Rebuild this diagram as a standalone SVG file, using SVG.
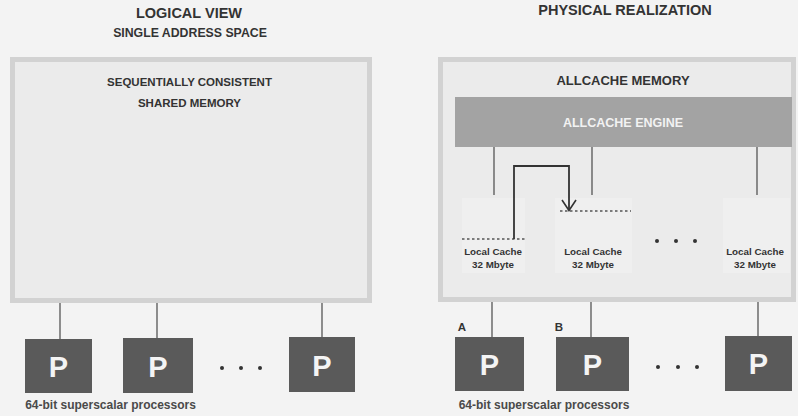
<svg xmlns="http://www.w3.org/2000/svg" width="798" height="416" viewBox="0 0 798 416">
<defs>
<style>
.t{font-family:"Liberation Sans",Arial,sans-serif;font-weight:bold;fill:#333;text-anchor:middle}
.box{fill:#ebebeb;stroke:#d2d2d2;stroke-width:5}
.proc{fill:#5a5a5a}
.pl{font-family:"Liberation Sans",Arial,sans-serif;font-weight:bold;fill:#f4f4f4;text-anchor:middle;font-size:29px}
.ln{stroke:#555;stroke-width:1.3;fill:none}
.cache{fill:#efefef}
.dot{fill:#333}
.dash{stroke:#555;stroke-width:1.3;stroke-dasharray:2.5,2.5;fill:none}
</style>
</defs>
<rect width="798" height="416" fill="#f3f3f3"/>

<g id="titles">
<text class="t" x="189" y="18" font-size="14.5">LOGICAL VIEW</text>
<text class="t" x="190" y="36.5" font-size="12.3">SINGLE ADDRESS SPACE</text>
<text class="t" x="625" y="15" font-size="14.5">PHYSICAL REALIZATION</text>
</g>

<g id="shared-memory">
<rect class="box" x="12.5" y="59.5" width="357" height="241"/>
<text class="t" x="189.5" y="86" font-size="11.5">SEQUENTIALLY CONSISTENT</text>
<text class="t" x="189.5" y="107" font-size="11.5">SHARED MEMORY</text>
</g>

<g id="allcache-memory">
<rect class="box" x="440.5" y="59.5" width="353" height="240"/>
<text class="t" x="623" y="84.5" font-size="13">ALLCACHE MEMORY</text>
</g>

<g id="allcache-engine">
<rect x="455" y="97" width="337" height="50" fill="#a3a3a3"/>
<text class="t" x="623" y="126.5" font-size="12.5" style="fill:#f2f2f2">ALLCACHE ENGINE</text>
</g>

<g id="cache1">
<rect class="cache" x="462" y="198" width="63" height="75"/>
<text class="t" x="493" y="254.5" font-size="9.8">Local Cache</text>
<text class="t" x="493" y="267.5" font-size="9.8">32 Mbyte</text>
</g>
<g id="cache2">
<rect class="cache" x="555" y="198" width="77" height="75"/>
<text class="t" x="593" y="254.5" font-size="9.8">Local Cache</text>
<text class="t" x="593" y="267.5" font-size="9.8">32 Mbyte</text>
</g>
<g id="cache3">
<rect class="cache" x="723" y="198" width="67" height="75"/>
<text class="t" x="755" y="254.5" font-size="9.8">Local Cache</text>
<text class="t" x="755" y="267.5" font-size="9.8">32 Mbyte</text>
</g>
<g id="cache-dots">
<circle class="dot" cx="657" cy="241" r="2"/>
<circle class="dot" cx="676" cy="241" r="2"/>
<circle class="dot" cx="695" cy="241" r="2"/>
</g>

<g id="left-procs">
<g id="lp1"><rect class="proc" x="25" y="339" width="67" height="54"/><text class="pl" x="58.5" y="376.5">P</text></g>
<g id="lp2"><rect class="proc" x="123" y="338" width="70" height="55"/><text class="pl" x="158" y="376.5">P</text></g>
<g id="lp3"><rect class="proc" x="289" y="337" width="66" height="55"/><text class="pl" x="322" y="375.5">P</text></g>
<g id="lp-dots">
<circle class="dot" cx="222" cy="368" r="2"/>
<circle class="dot" cx="241" cy="368" r="2"/>
<circle class="dot" cx="260" cy="368" r="2"/>
</g>
<text class="t" x="110.5" y="409" font-size="12" style="fill:#4a4a4a">64-bit superscalar processors</text>
</g>

<g id="right-procs">
<g id="rpA"><rect class="proc" x="455" y="337" width="69" height="54"/><text class="pl" x="489.5" y="374.5">P</text>
<text class="t" x="462" y="331" font-size="11.5">A</text></g>
<g id="rpB"><rect class="proc" x="556" y="337" width="73" height="54"/><text class="pl" x="592.5" y="374.5">P</text>
<text class="t" x="559" y="331" font-size="11.5">B</text></g>
<g id="rp3"><rect class="proc" x="725" y="336" width="67" height="55"/><text class="pl" x="758.5" y="374">P</text></g>
<g id="rp-dots">
<circle class="dot" cx="658" cy="367" r="2"/>
<circle class="dot" cx="678" cy="367" r="2"/>
<circle class="dot" cx="697" cy="367" r="2"/>
</g>
<text class="t" x="544" y="409" font-size="12" style="fill:#4a4a4a">64-bit superscalar processors</text>
</g>

<g id="connectors">
<line class="ln" x1="60" y1="303" x2="60" y2="339"/>
<line class="ln" x1="157" y1="303" x2="157" y2="338"/>
<line class="ln" x1="322" y1="303" x2="322" y2="337"/>
<line class="ln" x1="492" y1="302" x2="492" y2="337"/>
<line class="ln" x1="591" y1="302" x2="591" y2="337"/>
<line class="ln" x1="758" y1="302" x2="758" y2="336"/>
<line class="ln" x1="494" y1="147" x2="494" y2="195"/>
<line class="ln" x1="592" y1="147" x2="592" y2="195"/>
<line class="ln" x1="757" y1="147" x2="757" y2="195"/>
<line class="dash" x1="462" y1="239" x2="525" y2="239"/>
<line class="dash" x1="560" y1="211" x2="631" y2="211"/>
<path d="M514 239 V166 H569 V210" stroke="#333" stroke-width="1.8" fill="none"/>
<path d="M562 200 L569 210.5 L576 200" stroke="#333" stroke-width="1.6" fill="none"/>
</g>
</svg>
